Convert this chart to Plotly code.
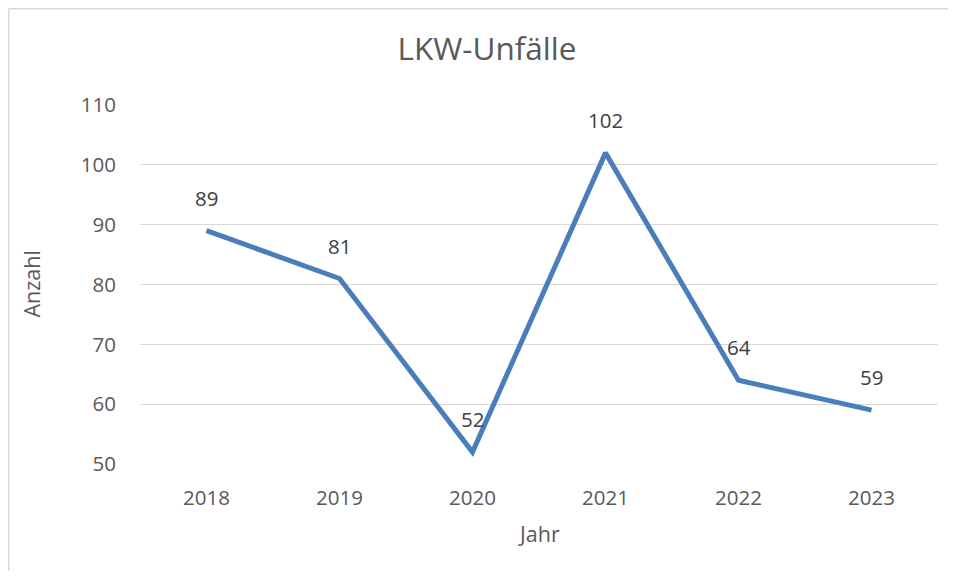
import plotly.graph_objects as go

years = ["2018", "2019", "2020", "2021", "2022", "2023"]
counts = [89, 81, 52, 102, 64, 59]
y_ticks = [50, 60, 70, 80, 90, 100, 110]

# page body has an 8px margin; figure sized to fit the visible area
W, H = 940, 563
L, R, T, B = 132, 10, 97, 107
pw, ph = W - L - R, H - T - B

FONT = "'Open Sans', sans-serif"
GREY = "#595959"

fig = go.Figure()
fig.add_trace(go.Scatter(
    x=years, y=counts, mode="lines",
    line=dict(color="#4A7EBB", width=5),
    hoverinfo="x+y", showlegend=False,
))

annotations = []
for i, v in enumerate(counts):
    annotations.append(dict(
        x=i, y=v, xref="x", yref="y", text=str(v), showarrow=False,
        yshift=33, xanchor="center", yanchor="middle",
        font=dict(family=FONT, size=20.5, color="#404040"),
    ))
annotations.append(dict(
    x=(23 - L) / pw, y=0.5, xref="paper", yref="paper", text="Anzahl",
    textangle=-90, showarrow=False, xanchor="center", yanchor="middle",
    font=dict(family=FONT, size=21.5, color=GREY),
))
annotations.append(dict(
    x=0.5, y=(H - B - 525) / ph, xref="paper", yref="paper", text="Jahr",
    showarrow=False, xanchor="center", yanchor="middle",
    font=dict(family=FONT, size=21.5, color=GREY),
))

bx = (0.75 - L) / pw
by = (H - B - 0.75) / ph
border = dict(color="#D9D9D9", width=1.5)
shapes = [
    dict(type="line", xref="paper", yref="paper", x0=bx, x1=(W - L) / pw,
         y0=by, y1=by, line=border, layer="below"),
    dict(type="line", xref="paper", yref="paper", x0=bx, x1=bx,
         y0=-B / ph, y1=by, line=border, layer="below"),
]

fig.update_layout(
    width=W, height=H,
    margin=dict(l=L, r=R, t=T, b=B),
    paper_bgcolor="white", plot_bgcolor="white",
    title=dict(text="LKW-Unfälle", x=479 / W, xanchor="center",
               y=1 - 41 / H, yanchor="middle",
               font=dict(family=FONT, size=31.5, color=GREY)),
    annotations=annotations,
    shapes=shapes,
    xaxis=dict(type="category", showgrid=False, zeroline=False, showline=False,
               ticks="outside", ticklen=15, tickcolor="rgba(0,0,0,0)",
               tickfont=dict(family=FONT, size=20.5, color=GREY),
               range=[-0.5, 5.5]),
    yaxis=dict(range=[50, 110], tickvals=y_ticks, showgrid=True,
               gridcolor="#D9D9D9", gridwidth=1.3, zeroline=False,
               showline=False, ticks="outside", ticklen=19,
               tickcolor="rgba(0,0,0,0)",
               tickfont=dict(family=FONT, size=20.5, color=GREY)),
)

fig.write_html("out.html")
